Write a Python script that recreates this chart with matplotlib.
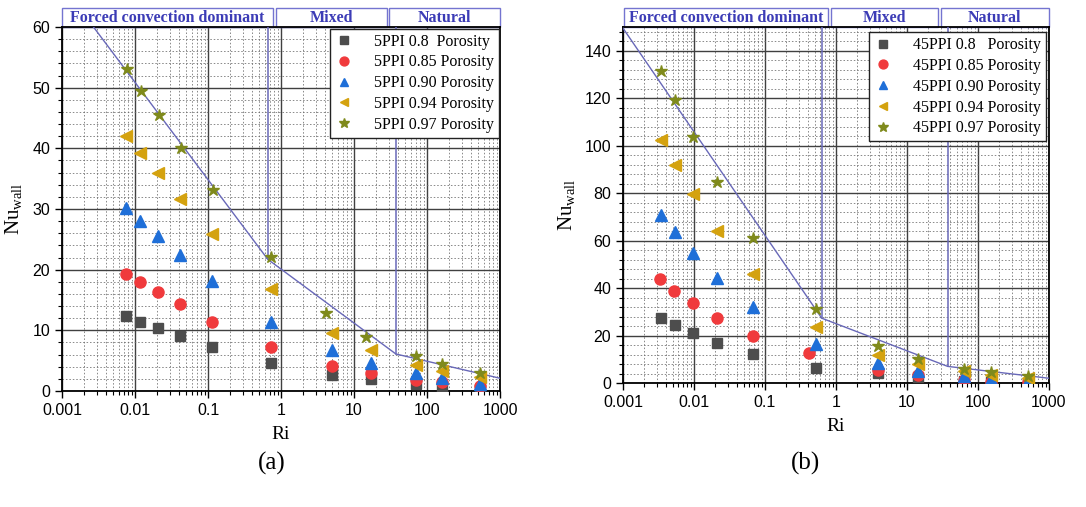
import matplotlib
matplotlib.use("Agg")
import matplotlib.pyplot as plt
from matplotlib.patches import Rectangle
from matplotlib.ticker import FixedLocator, LogLocator, MultipleLocator, NullFormatter

# ── data: panel (a), 5 PPI ─────────────────────────────────────
RI_A = [0.0075, 0.0118, 0.0205, 0.042, 0.115, 0.73, 5.0, 17.2, 70, 160, 530]
RI_A_STAR = [0.0078, 0.0121, 0.021, 0.043, 0.118, 0.72, 4.1, 14.8, 70, 160, 530]
NU_A_080 = [12.3, 11.4, 10.4, 9.0, 7.2, 4.6, 2.6, 1.9, 1.1, 0.7, 0.3]
NU_A_085 = [19.3, 18.0, 16.3, 14.3, 11.4, 7.2, 4.2, 2.9, 1.8, 1.5, 0.8]
NU_A_090 = [30.1, 28.1, 25.5, 22.4, 18.1, 11.3, 6.7, 4.6, 2.9, 2.2, 1.2]
NU_A_094 = [42.1, 39.3, 35.9, 31.6, 25.9, 16.8, 9.5, 6.7, 4.3, 3.3, 2.3]
NU_A_097 = [53.0, 49.5, 45.5, 40.1, 33.2, 22.1, 12.9, 8.9, 5.7, 4.4, 3.0]
GUIDE_A_RI = [0.0027, 0.66, 37.5, 1000]
GUIDE_A_NU = [60, 21.7, 6.1, 2.1]

# ── data: panel (b), 45 PPI ────────────────────────────────────
RI_B = [0.0034, 0.0054, 0.0097, 0.021, 0.068, 0.52, 3.9, 14.5, 63, 150, 500]
RI_B_085 = [0.0033, 0.0053, 0.0097, 0.021, 0.068, 0.41, 3.9, 14.5, 63, 150, 500]
NU_B_080 = [27.3, 24.3, 21.1, 17.0, 12.2, 6.3, 4.2, 2.5, 0.7, 0.3, 0.2]
NU_B_085 = [43.9, 38.7, 33.7, 27.4, 19.6, 12.7, 5.3, 3.2, 1.2, 0.6, 0.4]
NU_B_090 = [70.8, 63.5, 54.9, 44.2, 31.9, 16.4, 8.4, 5.1, 3.0, 1.8, 1.0]
NU_B_094 = [102.3, 91.8, 79.6, 64.2, 46.0, 23.5, 12.0, 7.8, 4.9, 3.4, 2.1]
NU_B_097 = [131.5, 119.2, 103.8, 84.6, 61.0, 31.2, 15.8, 10.3, 6.0, 4.6, 3.0]
GUIDE_B_RI = [0.001, 0.63, 37.4, 1000]
GUIDE_B_NU = [149.5, 27.3, 7.0, 2.0]

X_TICKS = [0.001, 0.01, 0.1, 1, 10, 100, 1000]
X_TICKLABELS = ["0.001", "0.01", "0.1", "1", "10", "100", "1000"]
REGIMES = ["Forced convection dominant", "Mixed", "Natural"]
POROSITY = ["0.8", "0.85", "0.90", "0.94", "0.97"]

# marker, colour, size per porosity
STYLES = [
    ("s", "#4d4d4d", 7),
    ("o", "#f03a3c", 8),
    ("^", "#1f6fd8", 8),
    ("<", "#d4a20f", 8),
    ("*", "#7f8a1c", 9),
]
GUIDE_COLOR = "#6868b8"
HEADER_COLOR = "#3c3cb6"
HEADER_EDGE = "#7474d0"

SERIF = ["Liberation Serif", "DejaVu Serif"]
SANS = ["Liberation Sans", "DejaVu Sans"]


def draw_panel(ax, xs, ys, labels, guide_x, guide_y, vlines, ymax, ymajor, yminor,
               box_edges, legend_bbox):
    for (mk, col, ms), x, y, lbl in zip(STYLES, xs, ys, labels):
        ax.plot(x, y, ls="none", marker=mk, color=col, ms=ms, mec=col, label=lbl, zorder=4)

    ax.plot(guide_x, guide_y, color=GUIDE_COLOR, lw=1.0, zorder=3)
    for xv, ybot in vlines:
        ax.plot([xv, xv], [ymax, ybot], color=GUIDE_COLOR, lw=1.1, zorder=3)

    ax.set_xscale("log")
    ax.set_xlim(0.001, 1000)
    ax.set_ylim(0, ymax)
    ax.xaxis.set_major_locator(FixedLocator(X_TICKS))
    ax.set_xticklabels(X_TICKLABELS)
    ax.xaxis.set_minor_locator(LogLocator(base=10, subs=range(2, 10), numticks=20))
    ax.xaxis.set_minor_formatter(NullFormatter())
    ax.yaxis.set_major_locator(MultipleLocator(ymajor))
    ax.yaxis.set_minor_locator(MultipleLocator(yminor))

    ax.grid(which="major", color="#404040", lw=1.0, ls="-", zorder=1)
    ax.grid(which="minor", color="#6a6a6a", lw=0.55, ls=(0, (2, 2.5)), zorder=1)
    ax.set_axisbelow(True)
    ax.tick_params(which="major", direction="out", length=5, width=1, labelsize=11.5)
    ax.tick_params(which="minor", direction="out", length=3, width=0.8)
    for t in ax.get_xticklabels() + ax.get_yticklabels():
        t.set_family(SANS)
    for s in ax.spines.values():
        s.set_linewidth(1.3)

    ax.set_xlabel("Ri", family=SERIF, fontsize=14, labelpad=6)
    ax.set_ylabel(r"Nu$_{\mathregular{wall}}$", family=SERIF, fontsize=15, labelpad=5)

    # regime header boxes above the axes
    for (x0, x1), text in zip(box_edges, REGIMES):
        ax.add_patch(Rectangle((x0, 1.0), x1 - x0, 0.053, transform=ax.transAxes,
                               fill=False, ec=HEADER_EDGE, lw=1.0, clip_on=False))
        ax.text((x0 + x1) / 2, 1.025, text, transform=ax.transAxes, ha="center", va="center",
                family=SERIF, fontweight="bold", fontsize=11.5, color=HEADER_COLOR)

    leg = ax.legend(loc="upper right", bbox_to_anchor=legend_bbox,
                    prop={"family": SERIF, "size": 11.5}, markerscale=0.8,
                    frameon=True, fancybox=False, framealpha=1, edgecolor="#222222",
                    handlelength=1.2, handletextpad=1.3, labelspacing=0.3, borderpad=0.3,
                    borderaxespad=0)
    leg.get_frame().set_linewidth(1.0)


def main():
    fig = plt.figure(figsize=(10.86, 5.07), dpi=100)
    ax_a = fig.add_axes([62 / 1086, 116 / 507, 438 / 1086, 364 / 507])
    ax_b = fig.add_axes([623 / 1086, 124 / 507, 426 / 1086, 356 / 507])

    labels_a = [f"5PPI {p}  Porosity" if p == "0.8" else f"5PPI {p} Porosity" for p in POROSITY]
    labels_b = [f"45PPI {p}   Porosity" if p == "0.8" else f"45PPI {p} Porosity" for p in POROSITY]

    draw_panel(ax_a,
               [RI_A, RI_A, RI_A, RI_A, RI_A_STAR],
               [NU_A_080, NU_A_085, NU_A_090, NU_A_094, NU_A_097],
               labels_a, GUIDE_A_RI, GUIDE_A_NU,
               vlines=[(0.66, 21.7), (37.5, 6.1)], ymax=60, ymajor=10, yminor=2,
               box_edges=[(0.0, 0.482), (0.489, 0.742), (0.747, 1.0)],
               legend_bbox=(0.998, 0.995))
    draw_panel(ax_b,
               [RI_B, RI_B_085, RI_B, RI_B, RI_B],
               [NU_B_080, NU_B_085, NU_B_090, NU_B_094, NU_B_097],
               labels_b, GUIDE_B_RI, GUIDE_B_NU,
               vlines=[(0.63, 27.3), (37.4, 7.0)], ymax=150, ymajor=20, yminor=4,
               box_edges=[(0.002, 0.481), (0.488, 0.739), (0.746, 1.0)],
               legend_bbox=(0.993, 0.985))

    fig.text(272 / 1086, 1 - 463 / 507, "(a)", family=SERIF, fontsize=18, ha="center", va="center")
    fig.text(806 / 1086, 1 - 463 / 507, "(b)", family=SERIF, fontsize=18, ha="center", va="center")

    fig.savefig("out.png", dpi=100)
    plt.close(fig)


if __name__ == "__main__":
    main()
